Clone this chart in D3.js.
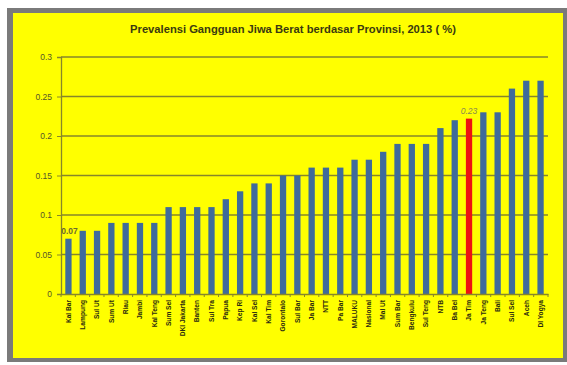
<!DOCTYPE html>
<html><head><meta charset="utf-8">
<script src="https://cdn.jsdelivr.net/npm/d3@7"></script>
<style>body{margin:0;background:#fff;}svg{display:block;font-family:"Liberation Sans",Arial,sans-serif;}</style>
</head><body>
<script>
const categories = ["Kal Bar","Lampung","Sul Ut","Sum Ut","Riau","Jambi","Kal Teng","Sum Sel","DKI Jakarta","Banten","Sul Tra","Papua","Kep Ri","Kal Sel","Kal Tim","Gorontalo","Sul Bar","Ja Bar","NTT","Pa Bar","MALUKU","Nasional","Mal Ut","Sum Bar","Bengkulu","Sul Teng","NTB","Ba Bel","Ja Tim","Ja Teng","Bali","Sul Sel","Aceh","DI Yogya"];
const values = [0.07,0.08,0.08,0.09,0.09,0.09,0.09,0.11,0.11,0.11,0.11,0.12,0.13,0.14,0.14,0.15,0.15,0.16,0.16,0.16,0.17,0.17,0.18,0.19,0.19,0.19,0.21,0.22,0.222,0.23,0.23,0.26,0.27,0.27];
const yTicks = [0,0.05,0.1,0.15,0.2,0.25,0.3];
const yTickLabels = ["0","0.05","0.1","0.15","0.2","0.25","0.3"];
const highlight = "Ja Tim";
const dataLabels = [{cat:"Kal Bar", text:"0.07", italic:false},{cat:"Ja Tim", text:"0.23", italic:true}];
const title = "Prevalensi  Gangguan Jiwa Berat berdasar Provinsi, 2013 ( %)";

const W=567,H=365;
const svg=d3.select("body").append("svg").attr("width",W).attr("height",H);
// frame
svg.append("rect").attr("x",7).attr("y",8).attr("width",560).attr("height",354).attr("fill","#7a7a7a");
svg.append("rect").attr("x",13).attr("y",13).attr("width",550).attr("height",345).attr("fill","#ffff00");

const m={l:61,r:548,t:57,b:294};
const x=d3.scaleBand().domain(categories).range([m.l,m.r]).paddingInner(0.56).paddingOuter(0.3);
const y=d3.scaleLinear().domain([0,0.3]).range([m.b,m.t]);

svg.append("text").attr("x",293).attr("y",33).attr("text-anchor","middle")
  .attr("font-size",11.2).attr("font-weight","bold").attr("fill","#3a3a10").text(title);

// gridlines
svg.append("g").selectAll("line").data(yTicks.filter(d=>d>0)).join("line")
  .attr("x1",m.l).attr("x2",m.r).attr("y1",d=>y(d)).attr("y2",d=>y(d))
  .attr("stroke","#86862a").attr("stroke-width",1.3);

// y axis
const ya=svg.append("g").attr("transform",`translate(${m.l},0)`)
  .call(d3.axisLeft(y).tickValues(yTicks).tickFormat((d,i)=>yTickLabels[i]).tickSize(4).tickPadding(5));
ya.select(".domain").attr("stroke","#86862a").attr("stroke-width",1.3);
ya.selectAll(".tick line").attr("stroke","#86862a");
ya.selectAll("text").attr("font-size",8.5).attr("fill","#55552a").attr("font-family","Liberation Sans, Arial, sans-serif");

// bars
svg.append("g").selectAll("rect").data(categories).join("rect")
  .attr("x",d=>x(d)).attr("width",x.bandwidth())
  .attr("y",(d,i)=>y(values[i])).attr("height",(d,i)=>y(0)-y(values[i]))
  .attr("fill",d=>d===highlight?"#ee1111":"#3f6b9b");

// x axis
const xa=svg.append("g").attr("transform",`translate(0,${m.b})`)
  .call(d3.axisBottom(x).tickSize(0).tickFormat(""));
xa.select(".domain").attr("stroke","#86862a").attr("stroke-width",1.3);
svg.append("g").selectAll("line").data(d3.range(categories.length+1)).join("line")
  .attr("x1",i=>m.l+i*(m.r-m.l)/categories.length).attr("x2",i=>m.l+i*(m.r-m.l)/categories.length)
  .attr("y1",m.b).attr("y2",m.b+3).attr("stroke","#86862a");

svg.append("g").selectAll("text").data(categories).join("text")
  .attr("transform",d=>`translate(${x(d)+x.bandwidth()/2+2.3},${m.b+6}) rotate(-90)`)
  .attr("text-anchor","end").attr("font-size",6.6).attr("font-weight","bold").attr("fill","#2a2a10")
  .text(d=>d);

// data labels
svg.append("g").selectAll("text").data(dataLabels).join("text")
  .attr("x",d=>x(d.cat)+x.bandwidth()/2+(d.italic?0:1))
  .attr("y",d=>y(values[categories.indexOf(d.cat)])-5)
  .attr("text-anchor","middle").attr("font-size",8.5)
  .attr("font-style",d=>d.italic?"italic":"normal")
  .attr("font-weight",d=>d.italic?"normal":"bold")
  .attr("fill",d=>d.italic?"#8a8a50":"#6a6a30").text(d=>d.text);
</script>
</body></html>
